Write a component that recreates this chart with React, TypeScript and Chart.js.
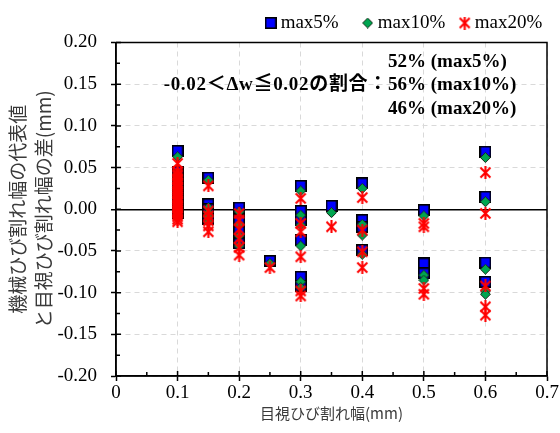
import React, { useEffect, useRef } from 'react';
import { Chart, registerables } from 'chart.js';

Chart.register(...registerables);

// ---- data ----
const crackWidths = [0.1, 0.15, 0.2, 0.25, 0.3, 0.35, 0.4, 0.5, 0.6];

const max5Diffs = [
  [0.070, 0.045, 0.041, 0.036, 0.031, 0.026, 0.021, 0.017, 0.013, 0.010, 0.007, 0.004, 0.001, -0.002, -0.005],
  [0.038, 0.006, 0.000, -0.006, -0.012],
  [0.002, -0.013, -0.027, -0.041],
  [-0.062],
  [0.028, -0.002, -0.013, -0.037, -0.081, -0.092],
  [0.004],
  [0.031, -0.013, -0.021, -0.049],
  [-0.001, -0.065, -0.077],
  [0.069, 0.015, -0.064, -0.087],
];

const max10Diffs = [
  [0.063, 0.042, 0.038, 0.033, 0.028, 0.023, 0.018, 0.014, 0.010, 0.006, 0.003, 0.000, -0.003, -0.006, -0.009],
  [0.035, 0.002, -0.004, -0.009, -0.015],
  [-0.003, -0.018, -0.032, -0.044],
  [-0.065],
  [0.022, -0.007, -0.019, -0.044, -0.087, -0.094],
  [-0.004],
  [0.025, -0.018, -0.031, -0.054],
  [-0.008, -0.079, -0.085],
  [0.062, 0.009, -0.072, -0.098, -0.102],
];

const max20Diffs = [
  [0.055, 0.045, 0.042, 0.040, 0.037, 0.035, 0.032, 0.030, 0.027, 0.025, 0.022, 0.020, 0.018, 0.015, 0.013, 0.010, 0.008, 0.005, 0.003, 0.001, -0.002, -0.004, -0.007, -0.009, -0.012, -0.015],
  [0.028, -0.002, -0.008, -0.014, -0.020, -0.027],
  [-0.005, -0.013, -0.024, -0.035, -0.046, -0.055],
  [-0.070],
  [0.013, -0.017, -0.027, -0.057, -0.098, -0.104],
  [-0.021],
  [0.014, -0.025, -0.051, -0.070],
  [-0.017, -0.021, -0.095, -0.102],
  [0.044, -0.005, -0.092, -0.117, -0.127],
];

const seriesNames = ['max5%', 'max10%', 'max20%'];
const legendGaps = ['      ', '    ', ' '];
const ratioLabel = '-0.02＜Δw≦0.02の割合：';
const ratioLines = ['52% (max5%)', '56% (max10%)', '46% (max20%)'];
const xTitle = '目視ひび割れ幅(mm)';
const yTitle = ['機械ひび割れ幅の代表値', 'と目視ひび割れ幅の差(mm)'];

const X_MIN = 0, X_MAX = 0.7, X_STEP = 0.05, X_MAJOR = 0.1;
const Y_MIN = -0.2, Y_MAX = 0.2, Y_STEP = 0.025, Y_MAJOR = 0.05;

const toPoints = (diffs: number[][]) =>
  crackWidths.flatMap((w, i) => diffs[i].map((d) => ({ x: w, y: d })));

const isMult = (v: number, s: number) => Math.abs(v / s - Math.round(v / s)) < 1e-6;

function makeSquare() {
  const c = document.createElement('canvas');
  c.width = 12; c.height = 12;
  const g = c.getContext('2d')!;
  g.fillStyle = '#0000FF';
  g.fillRect(1, 1, 10, 10);
  g.strokeStyle = '#000';
  g.lineWidth = 1.6;
  g.strokeRect(0.8, 0.8, 10.4, 10.4);
  return c;
}
function makeDiamond() {
  const c = document.createElement('canvas');
  c.width = 11; c.height = 11;
  const g = c.getContext('2d')!;
  g.beginPath();
  g.moveTo(5.5, 0.5); g.lineTo(10.5, 5.5); g.lineTo(5.5, 10.5); g.lineTo(0.5, 5.5); g.closePath();
  g.fillStyle = '#00A550';
  g.fill();
  g.strokeStyle = '#1a2a1a';
  g.lineWidth = 1;
  g.stroke();
  return c;
}
function makeStar() {
  const c = document.createElement('canvas');
  c.width = 13; c.height = 13;
  const g = c.getContext('2d')!;
  g.strokeStyle = '#FF0000';
  g.lineWidth = 2.1;
  g.beginPath();
  g.moveTo(1.5, 1.5); g.lineTo(11.5, 11.5);
  g.moveTo(11.5, 1.5); g.lineTo(1.5, 11.5);
  g.moveTo(6.5, 0); g.lineTo(6.5, 13);
  g.stroke();
  return c;
}

const framePlugin = {
  id: 'frameAndNotes',
  afterDraw(chart: any) {
    const { ctx, chartArea: a, scales } = chart;
    const xs = scales.x, ys = scales.y;
    ctx.save();
    ctx.strokeStyle = '#000';
    ctx.lineWidth = 1.5;
    ctx.strokeRect(a.left, a.top, a.right - a.left, a.bottom - a.top);
    ctx.beginPath();
    xs.ticks.forEach((t: any) => {
      const px = xs.getPixelForValue(t.value);
      const len = isMult(t.value, X_MAJOR) ? 5 : 4;
      ctx.moveTo(px, a.bottom);
      ctx.lineTo(px, a.bottom - len);
    });
    ys.ticks.forEach((t: any) => {
      const py = ys.getPixelForValue(t.value);
      const len = isMult(t.value, Y_MAJOR) ? 5 : 4;
      ctx.moveTo(a.left, py);
      ctx.lineTo(a.left + len, py);
    });
    ctx.stroke();

    ctx.fillStyle = '#000';
    ctx.font = 'bold 19px "Liberation Serif", "Noto Sans CJK JP"';
    ctx.textBaseline = 'middle';
    const ax = a.right - 159;
    const y0 = a.top + 19.5;
    const dy = 23.3;
    ctx.textAlign = 'left';
    ratioLines.forEach((t, i) => ctx.fillText(t, ax, y0 + i * dy));
    ctx.textAlign = 'right';
    try { (ctx as any).letterSpacing = '0.7px'; } catch (e) { /* ignore */ }
    ctx.fillText(ratioLabel, ax, y0 + dy);
    ctx.restore();
  },
};

export default function App() {
  const ref = useRef<HTMLCanvasElement | null>(null);
  useEffect(() => {
    if (!ref.current) return;
    Chart.defaults.font.family = '"Liberation Serif", "Times New Roman", serif';
    Chart.defaults.color = '#000';
    const images = [makeSquare(), makeDiamond(), makeStar()];
    const colors = ['#0000FF', '#00A550', '#FF0000'];
    const allDiffs = [max5Diffs, max10Diffs, max20Diffs];
    const chart = new Chart(ref.current, {
      type: 'scatter',
      data: {
        datasets: seriesNames.map((name, i) => ({
          label: name,
          data: toPoints(allDiffs[i]),
          pointStyle: images[i] as any,
          pointRadius: 6,
          backgroundColor: colors[i],
          borderColor: colors[i],
          order: 3 - i,
        })),
      },
      options: {
        responsive: false,
        animation: false,
        devicePixelRatio: 1,
        layout: { padding: { top: 13.5, right: 13, left: 0, bottom: 0 } },
        plugins: {
          tooltip: { enabled: false },
          legend: {
            display: true,
            position: 'top',
            align: 'end',
            labels: {
              usePointStyle: true,
              boxWidth: 1,
              padding: 0,
              color: '#000',
              font: { size: 19, family: '"Liberation Serif", serif' },
              generateLabels: (chart: any) => {
                const items = (Chart.defaults.plugins.legend.labels as any).generateLabels(chart);
                items.sort((p: any, q: any) => p.datasetIndex - q.datasetIndex);
                items.forEach((it: any) => { it.text = it.text + legendGaps[it.datasetIndex]; });
                return items;
              },
            },
          },
        },
        scales: {
          x: {
            type: 'linear',
            min: X_MIN,
            max: X_MAX,
            afterFit: (s: any) => { s.height = 57; },
            ticks: {
              stepSize: X_STEP,
              autoSkip: false,
              maxRotation: 0,
              padding: 1,
              color: '#000',
              font: { size: 19 },
              callback: (v: any) => (isMult(v, X_MAJOR) ? (Math.abs(v) < 1e-9 ? '0' : Number(v).toFixed(1)) : ''),
            },
            grid: {
              color: (c: any) => (c.tick && isMult(c.tick.value, X_MAJOR) ? '#D9D9D9' : 'rgba(0,0,0,0)'),
              lineWidth: 1,
              tickLength: 5,
              tickWidth: 1.5,
              tickColor: (c: any) => (c.tick && isMult(c.tick.value, X_MAJOR) ? '#000' : 'rgba(0,0,0,0)'),
            },
            border: { display: true, color: '#000', width: 1.5, dash: [5, 4] },
            title: {
              display: true,
              text: xTitle,
              color: '#3a3a3a',
              font: { size: 15, family: '"Noto Sans CJK JP", sans-serif' },
              padding: { top: 2, bottom: 11 },
            },
          },
          y: {
            type: 'linear',
            min: Y_MIN,
            max: Y_MAX,
            afterFit: (s: any) => { s.width = 116; },
            ticks: {
              stepSize: Y_STEP,
              autoSkip: false,
              padding: 14,
              color: '#000',
              font: { size: 19 },
              callback: (v: any) => (isMult(v, Y_MAJOR) ? Number(v).toFixed(2) : ''),
            },
            grid: {
              color: (c: any) => {
                if (!c.tick) return '#D9D9D9';
                if (Math.abs(c.tick.value) < 1e-9) return '#000';
                return isMult(c.tick.value, Y_MAJOR) ? '#D9D9D9' : 'rgba(0,0,0,0)';
              },
              lineWidth: (c: any) => (c.tick && Math.abs(c.tick.value) < 1e-9 ? 1.5 : 1),
              tickLength: 5,
              tickWidth: 1.5,
              tickColor: (c: any) => (c.tick && isMult(c.tick.value, Y_MAJOR) ? '#000' : 'rgba(0,0,0,0)'),
            },
            border: {
              display: true,
              color: '#000',
              width: 1.5,
              dash: (c: any) => (c.tick && Math.abs(c.tick.value) < 1e-9 ? [] : [5, 4]),
            },
            title: {
              display: true,
              text: yTitle,
              color: '#3a3a3a',
              font: { size: 19, family: '"Noto Sans CJK JP", sans-serif', lineHeight: 1.35 },
              padding: { top: 5, bottom: 0 },
            },
          },
        },
      },
      plugins: [framePlugin],
    } as any);
    return () => chart.destroy();
  }, []);

  return (
    <div style={{ position: 'fixed', left: 0, top: 0, width: 560, height: 433, background: '#fff' }}>
      <canvas ref={ref} width={560} height={433} style={{ display: 'block', width: 560, height: 433 }} />
    </div>
  );
}
